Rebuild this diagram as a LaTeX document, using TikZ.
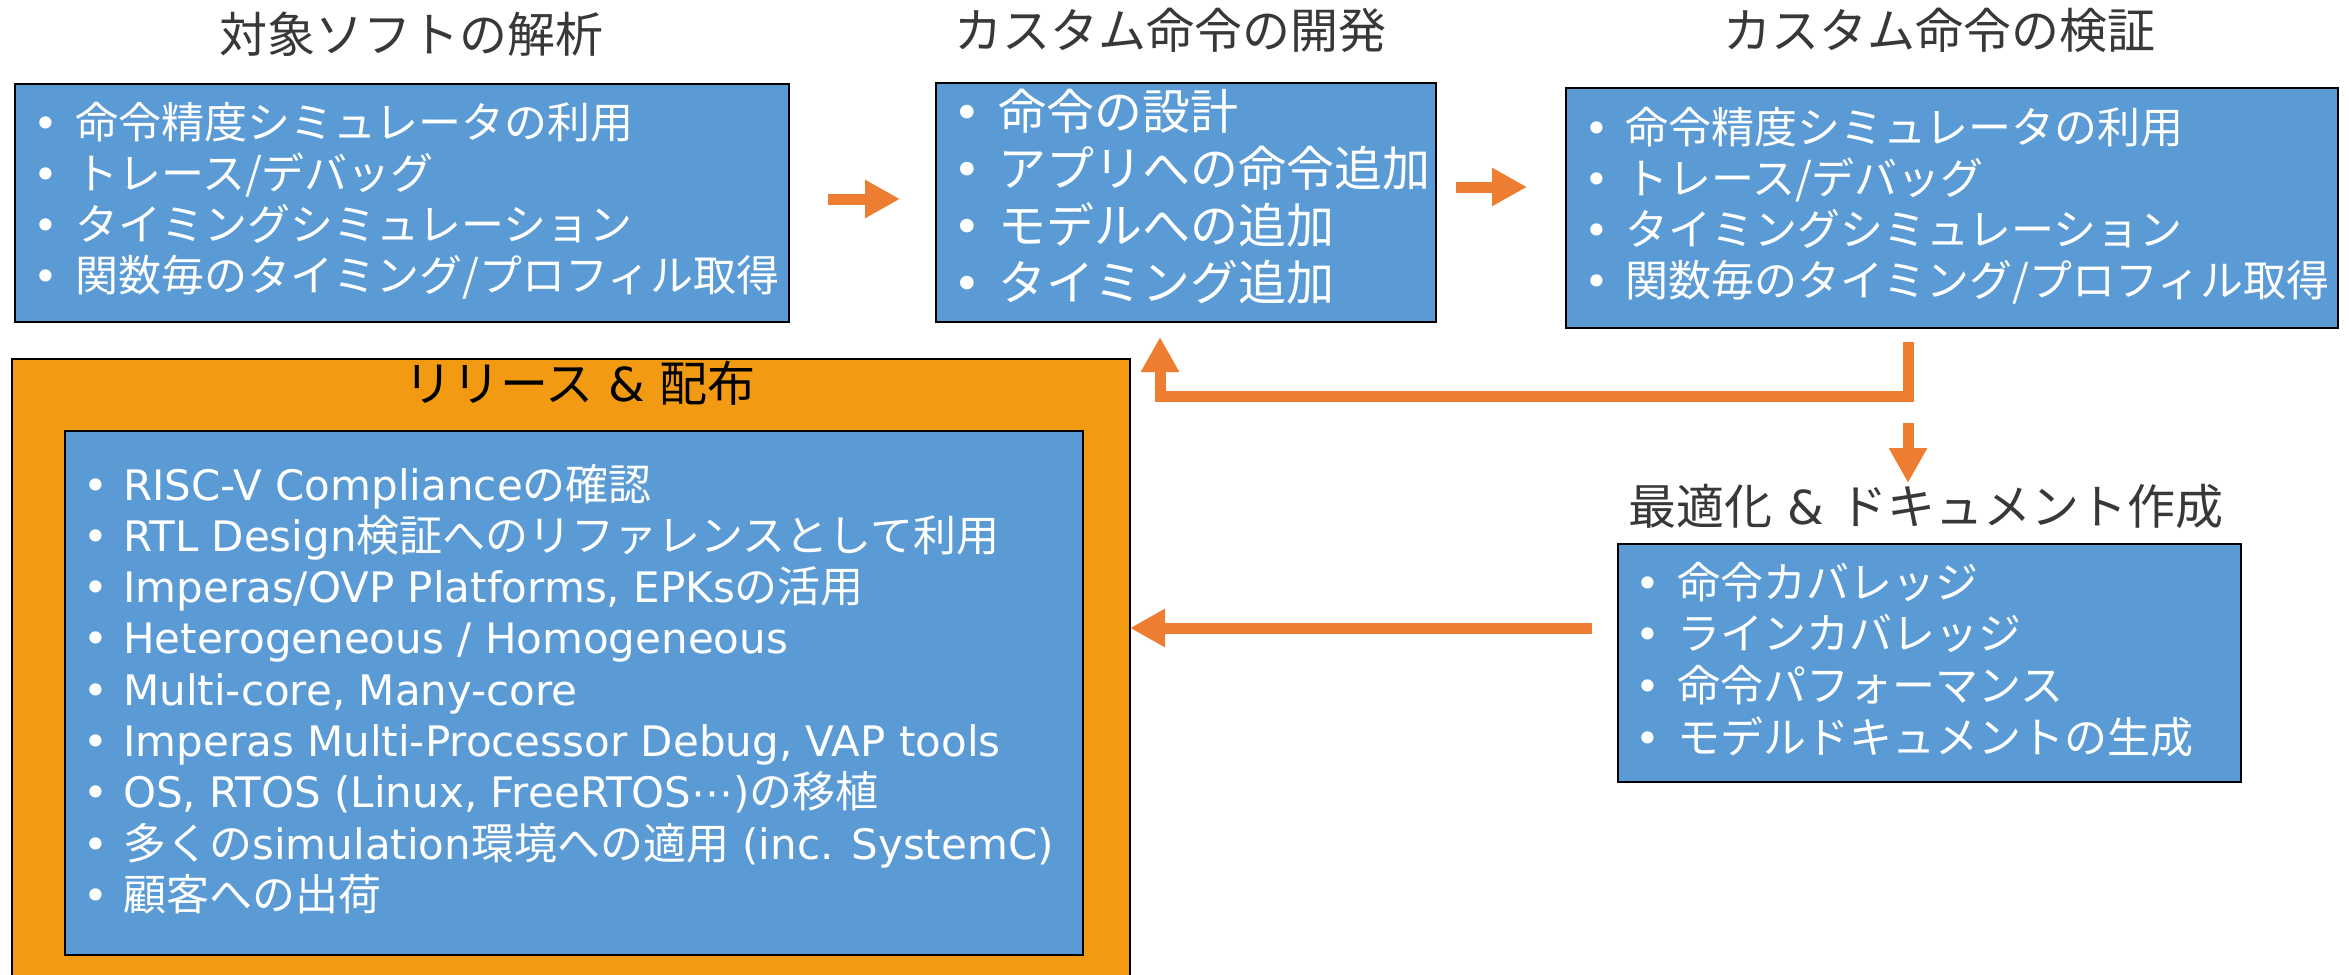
\documentclass[tikz,border=0pt]{standalone}
\usepackage{fontspec}
\setmainfont{Noto Sans CJK JP}
\newfontfamily\latin[Scale=0.977]{DejaVu Sans}
\usetikzlibrary{arrows.meta}

\definecolor{panelblue}{HTML}{5B9BD5}
\definecolor{flow}{HTML}{ED7D31}
\definecolor{releasefill}{HTML}{F39A13}
\definecolor{headgray}{HTML}{383838}

% bullet centred on the node's west edge, text after a gap
\newcommand\bul[1][29pt]{\makebox[0pt][c]{\latin •}\hspace*{#1}}

\tikzset{
  panel/.style={draw=black, line width=2.5pt, fill=panelblue, anchor=north west,
    inner sep=0pt, outer sep=0pt},
  entry/.style={anchor=base west, inner sep=0pt, text=white,
    font=\fontsize{43}{50}\selectfont},
  bigentry/.style={entry, font=\fontsize{48}{56}\selectfont},
  heading/.style={text=headgray, inner sep=0pt, font=\fontsize{48}{56}\selectfont},
  flowline/.style={draw=flow, line width=11pt, line join=miter},
  flowarrow/.style={flowline, -{Triangle[width=36pt,length=35pt]}},
}

\begin{document}
\begin{tikzpicture}[x=1pt, y=-1pt]
\useasboundingbox (0,0) rectangle (2349,974);
\clip (0,0) rectangle (2349,974);

% ---------- headings ----------
\node[heading] (t1) at (411,34) {対象ソフトの解析};
\node[heading] (t2) at (1170,30) {カスタム命令の開発};
\node[heading] (t3) at (1939,30) {カスタム命令の検証};
\node[heading] (t4) at (1926,506) {最適化{\latin{} \& }ドキュメント作成};

% ---------- analysis ----------
\node[panel, minimum width=774, minimum height=238] (b1) at (15,84) {};
\foreach \t [count=\i] in {命令精度シミュレータの利用, トレース/デバッグ,
    タイミングシミュレーション, 関数毎のタイミング/プロフィル取得}
  \node[entry] (b1-\i) at (46,{138+51*(\i-1)}) {\bul\t};

% ---------- development ----------
\node[panel, minimum width=500, minimum height=239] (b2) at (936,83) {};
\foreach \t [count=\i] in {命令の設計, アプリへの命令追加, モデルへの追加, タイミング追加}
  \node[bigentry] (b2-\i) at (967,{129+57*(\i-1)}) {\bul[31pt]\t};

% ---------- verification ----------
\node[panel, minimum width=772, minimum height=240] (b3) at (1566,88) {};
\foreach \t [count=\i] in {命令精度シミュレータの利用, トレース/デバッグ,
    タイミングシミュレーション, 関数毎のタイミング/プロフィル取得}
  \node[entry] (b3-\i) at (1597,{143+51*(\i-1)}) {\bul[28pt]\t};

% ---------- optimisation & documents ----------
\node[panel, minimum width=623, minimum height=238] (b4) at (1618,544) {};
\foreach \t [count=\i] in {命令カバレッジ, ラインカバレッジ, 命令パフォーマンス,
    モデルドキュメントの生成}
  \node[entry] (b4-\i) at (1648,{598+51.7*(\i-1)}) {\bul\t};

% ---------- release & distribution ----------
\node[panel, fill=releasefill, minimum width=1118, minimum height=700] (rel) at (12,359) {};
\node[heading, text=black] (t5) at (580,383) {リリース{\latin{} \& }配布};
\node[panel, minimum width=1018, minimum height=524] (b5) at (65,431) {};
\foreach \t [count=\i] in {
    {{\latin RISC-V Compliance}の確認},
    {{\latin RTL Design}検証へのリファレンスとして利用},
    {{\latin Imperas/OVP Platforms, EPKs}の活用},
    {{\latin Heterogeneous / Homogeneous}},
    {{\latin Multi-core, Many-core}},
    {{\latin Imperas Multi-Processor Debug, VAP tools}},
    {{\latin OS, RTOS (Linux, FreeRTOS⋯)}の移植},
    {多くの{\latin simulation}環境への適用{\latin{} (inc. SystemC)}},
    {顧客への出荷}}
  \node[entry] (b5-\i) at (96,{500+51.3*(\i-1)}) {\bul[27pt]\t};

% ---------- flow ----------
\coordinate (f1s) at (828,199);  \coordinate (f1e) at (900,199);
\coordinate (f2s) at (1456,187); \coordinate (f2e) at (1527,187);
\coordinate (fbs) at (1908,342); \coordinate (fbc) at (1908,396);
\coordinate (fbe) at (1160,337);
\coordinate (dns) at (1908,423); \coordinate (dne) at (1908,483);
\coordinate (lfs) at (1592,628);

\draw[flowarrow] (f1s) -- (f1e);
\draw[flowarrow] (f2s) -- (f2e);
\draw[flowarrow] (fbs) -- (fbc) -| (fbe);
\draw[flowarrow] (dns) -- (dne);
\draw[flowarrow] (lfs) -- (rel.east |- lfs);
\end{tikzpicture}
\end{document}
